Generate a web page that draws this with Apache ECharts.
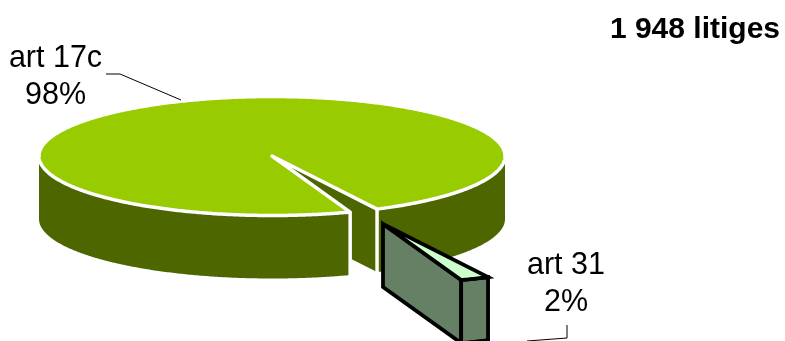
<!DOCTYPE html>
<html>
<head>
<meta charset="utf-8">
<style>html,body{margin:0;padding:0;background:#fff}#chart{width:785px;height:341px}</style>
<script src="https://cdn.jsdelivr.net/npm/echarts@6/dist/echarts.min.js"></script>
</head>
<body>
<div id="chart"></div>
<script>
// Chart content
const totalLabel = '1 948 litiges';
const categories = ['art 17c', 'art 31'];
const shares = [98, 2];

// Disc projection: screen centre, ellipse radii, wall height, first slice start angle
const disc = { cx: 272, cy: 156, rx: 233, ry: 59.5, depth: 63, startDeg: 70.4 };
const explode = { dx: 111, dy: 68 };
const sliceStyles = [
  { top: '#99CC00', wall: '#4D6600', stroke: '#FFFFFF', lineWidth: 3.5 },
  { top: '#CCFFCC', wall: '#658065', stroke: '#000000', lineWidth: 3.8 }
];
const labelStyles = [
  { x: 55.5, y: 77, leader: [[106, 74], [120, 74], [181, 100]] },
  { x: 566, y: 284, leader: [[567, 325], [567, 338], [527, 341]] }
];

const toRad = d => d * Math.PI / 180;
const point = (deg, dx, dy, lift) => [
  disc.cx + dx + disc.rx * Math.cos(toRad(deg)),
  disc.cy + dy + lift + disc.ry * Math.sin(toRad(deg))
];
function arc(from, to, dx, dy, lift) {
  const pts = [];
  const n = Math.max(2, Math.ceil(Math.abs(to - from) * 2));
  for (let i = 0; i <= n; i++) pts.push(point(from + (to - from) * i / n, dx, dy, lift));
  return pts;
}
// Outer wall between two angles on the front half of the rim
function wall(from, to, dx, dy) {
  return arc(from, to, dx, dy, 0).concat(arc(to, from, dx, dy, disc.depth));
}

function renderSlice(params, api) {
  const i = params.dataIndex;
  const total = shares.reduce((a, b) => a + b, 0);
  const before = shares.slice(0, i).reduce((a, b) => a + b, 0);
  const start = disc.startDeg + before / total * 360;
  const end = start + api.value(0) / total * 360;
  const st = sliceStyles[i];
  const dx = i ? explode.dx : 0;
  const dy = i ? explode.dy : 0;
  const apex = [disc.cx + dx, disc.cy + dy];
  const apexLow = [apex[0], apex[1] + disc.depth];
  const poly = (pts, style) => ({ type: 'polygon', shape: { points: pts }, style });
  const children = [];

  if (i === 0) {
    // Main disc: inner cut face, the rim either side of the gap, then white seams on the cut ends
    const cutEnd = end - 360;
    const plain = { fill: st.wall };
    children.push(poly([apex, point(cutEnd, 0, 0, 0), point(cutEnd, 0, 0, disc.depth), apexLow], plain));
    children.push(poly(wall(0, cutEnd, 0, 0), plain));
    children.push(poly(wall(start, 180, 0, 0), plain));
    [cutEnd, start].forEach(a => {
      children.push({ type: 'polyline',
        shape: { points: [point(a, 0, 0, 0), point(a, 0, 0, disc.depth + 2)] },
        style: { fill: null, stroke: st.stroke, lineWidth: st.lineWidth } });
    });
  } else {
    // Pulled-out slice: side face and rim
    const face = { fill: st.wall, stroke: st.stroke, lineWidth: st.lineWidth, lineJoin: 'miter' };
    children.push(poly([apex, point(end - 360, dx, dy, 0), point(end - 360, dx, dy, disc.depth), apexLow], face));
    children.push(poly(wall(start, end, dx, dy), face));
  }
  children.push(poly([apex].concat(arc(start, end, dx, dy, 0)),
    { fill: st.top, stroke: st.stroke, lineWidth: st.lineWidth, lineJoin: i ? 'miter' : 'round' }));

  const lab = labelStyles[i];
  children.push({ type: 'polyline', shape: { points: lab.leader }, style: { fill: null, stroke: '#000', lineWidth: 1 } });
  children.push({ type: 'text', style: {
    text: categories[i] + '\n' + api.value(0) + '%', x: lab.x, y: lab.y,
    font: '30.5px "Liberation Sans", Arial, sans-serif', lineHeight: 37,
    align: 'center', verticalAlign: 'middle', fill: '#000'
  } });
  return { type: 'group', children };
}

const chart = echarts.init(document.getElementById('chart'), null, { renderer: 'canvas' });
chart.setOption({
  animation: false,
  backgroundColor: '#fff',
  title: {
    text: totalLabel, right: 0, top: 10,
    textStyle: { fontFamily: '"Liberation Sans", Arial, sans-serif', fontWeight: 'bold', fontSize: 30, color: '#000' }
  },
  series: [{
    type: 'custom',
    coordinateSystem: 'none',
    silent: true,
    clip: false,
    renderItem: renderSlice,
    data: shares.map((v, i) => ({ name: categories[i], value: [v] }))
  }]
});
</script>
</body>
</html>
